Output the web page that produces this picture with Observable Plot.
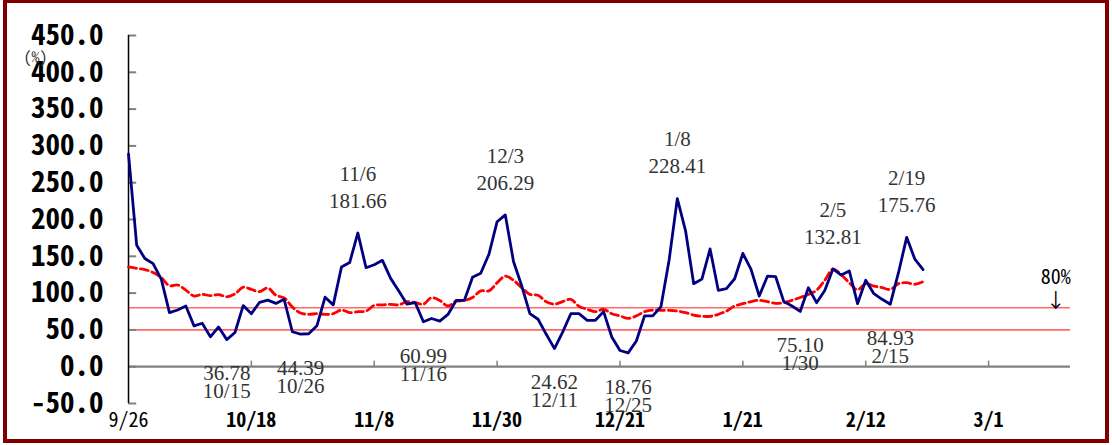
<!DOCTYPE html>
<html><head><meta charset="utf-8">
<script src="https://cdn.jsdelivr.net/npm/d3@7"></script>
<script src="https://cdn.jsdelivr.net/npm/@observablehq/plot@0.6"></script>
<style>
html,body{margin:0;padding:0;background:#fff;}
#wrap{position:relative;width:1112px;height:445px;overflow:hidden;background:#fff;}
#border{position:absolute;left:3px;top:-1px;width:1098px;height:436px;border:4px solid #800000;pointer-events:none;}
</style></head><body>
<div id="wrap"><div id="border"></div></div>
<script>
// daily ratio (%) — blue solid line
const ratio = [289,165,147,140,119,73.5,77,82.5,55.5,59,40.5,54,36.78,46.5,83,72,87.5,90.5,86,91.5,
  47.5,44.39,44.8,55.5,94.5,84,135.5,141.5,181.66,134.5,138.5,144.5,120,103,85,87,60.99,65.5,62,71,
  90,90,121.5,127,152.7,197,206.29,143,110,72,64.5,44,24.62,47,72,72,63,63,74.8,40.4,
  22,18.76,35,69,69,81.5,145,228.41,185,112.8,119,160,103.8,106,119.5,154,132.3,96,123,122.5,
  88.5,82.5,75.10,107.3,87,103.5,132.81,124.5,130,85.6,117.4,99.2,91.6,84.93,127.7,175.76,146,132];
// moving average (%) — red dashed line
const movingAvg = [135.5,133.5,132,128,121,110,111,104,96,98.3,96.5,98,95,99,108,105,102,107,97,93.5,
  81,73,71.2,72,71.2,72,77,73.5,74.8,75.5,83.4,84,84.7,84,88.3,87,85,93.8,90,82.5,
  89,90,94,103,103,114,123,117.4,107.3,98.3,97,88.3,85,88.5,91.6,82,78,74.8,78,72,
  69,65.7,69,74.8,77,76.6,76.6,75.7,73.4,70.2,68.5,68.5,71.2,75.5,82.5,85.6,88.5,90.2,88.3,86.1,
  87,90.2,94,98,104,117.4,132.5,125,114,104.5,112.8,109.6,107.3,105,112.8,114.1,112,115.5];
const categoryCount = 116;
const xTickIndex = [0,15,30,45,60,75,90,105];
const xTickLabels = ["9/26","10/18","11/8","11/30","12/21","1/21","2/12","3/1"];
const yTicks = [-50,0,50,100,150,200,250,300,350,400,450];
const refLevels = [80,50];
const peakIndex = [28,46,67,86,95];
const peakDates = ["11/6","12/3","1/8","2/5","2/19"];
const lowIndex = [12,21,36,52,61,82,93];
const lowDates = ["10/15","10/26","11/16","12/11","12/25","1/30","2/15"];

const ratioRows = ratio.map((v,i)=>({i,v}));
const maRows = movingAvg.map((v,i)=>({i,v}));
const mono = '"Noto Sans Mono CJK JP","Noto Sans Mono CJK SC","DejaVu Sans Mono",monospace';
const serif = '"Liberation Serif","DejaVu Serif",serif';
const last = categoryCount - 1;

const chart = Plot.plot({
  width:1112, height:445,
  marginLeft:128, marginRight:42, marginTop:35, marginBottom:42,
  x:{domain:[0,last], axis:null},
  y:{domain:[-50,450], axis:null},
  style:{background:"transparent", overflow:"visible"},
  marks:[
    Plot.ruleY(refLevels, {x1:0, x2:last, stroke:"#ff6a6a", strokeWidth:1.6}),
    Plot.ruleY([0], {x1:0, x2:last, stroke:"#808080", strokeWidth:2.2}),
    Plot.ruleX(xTickIndex.slice(1), {y1:0, y2:7.5, stroke:"#808080", strokeWidth:1.5}),
    Plot.ruleY(yTicks, {x1:0, x2:1, stroke:"#808080", strokeWidth:2}),
    Plot.ruleX([0], {y1:-50, y2:450, stroke:"#000", strokeWidth:1.5}),
    Plot.line(maRows, {x:"i", y:"v", stroke:"#ff0000", strokeWidth:2.8, strokeDasharray:"8,4", curve:"catmull-rom"}),
    Plot.line(ratioRows, {x:"i", y:"v", stroke:"#000080", strokeWidth:2.8}),
    Plot.text(yTicks, {x:0, y:d=>d, text:d=>d.toFixed(1), dx:-25, textAnchor:"end", fontFamily:mono, fontWeight:"bold", fontSize:29, fill:"#000"}),
    Plot.text(xTickIndex.slice(0,1), {x:d=>d, y:-50, dy:17, text:(d,k)=>xTickLabels[0], fontFamily:mono, fontSize:20, fill:"#000"}),
    Plot.text(xTickIndex.slice(1), {x:d=>d, y:-50, dy:17, text:(d,k)=>xTickLabels[k+1], fontFamily:mono, fontWeight:"bold", fontSize:20, fill:"#000"}),
    Plot.text(["(%)"], {x:0, y:420, dx:-93, text:d=>d, fontFamily:mono, fontSize:16, fill:"#333"}),
    Plot.text(["80%"], {x:113.2, y:120.5, text:d=>d, fontFamily:mono, fontSize:20, fill:"#000"}),
    Plot.text(["↓"], {x:113.2, y:89, text:d=>d, fontFamily:mono, fontSize:20, fill:"#000"}),
    Plot.text(peakIndex, {x:d=>d, y:d=>ratio[d], dy:-32, text:d=>ratio[d].toFixed(2), fontFamily:serif, fontSize:21, fill:"#333"}),
    Plot.text(peakIndex, {x:d=>d, y:d=>ratio[d], dy:-59, text:(d,k)=>peakDates[k], fontFamily:serif, fontSize:21, fill:"#333"}),
    Plot.text(lowIndex, {x:d=>d, y:d=>ratio[d], dy:34, text:d=>ratio[d].toFixed(2), fontFamily:serif, fontSize:21, fill:"#333"}),
    Plot.text(lowIndex, {x:d=>d, y:d=>ratio[d], dy:52, text:(d,k)=>lowDates[k], fontFamily:serif, fontSize:21, fill:"#333"})
  ]
});
document.getElementById("wrap").prepend(chart);
</script>
</body></html>
